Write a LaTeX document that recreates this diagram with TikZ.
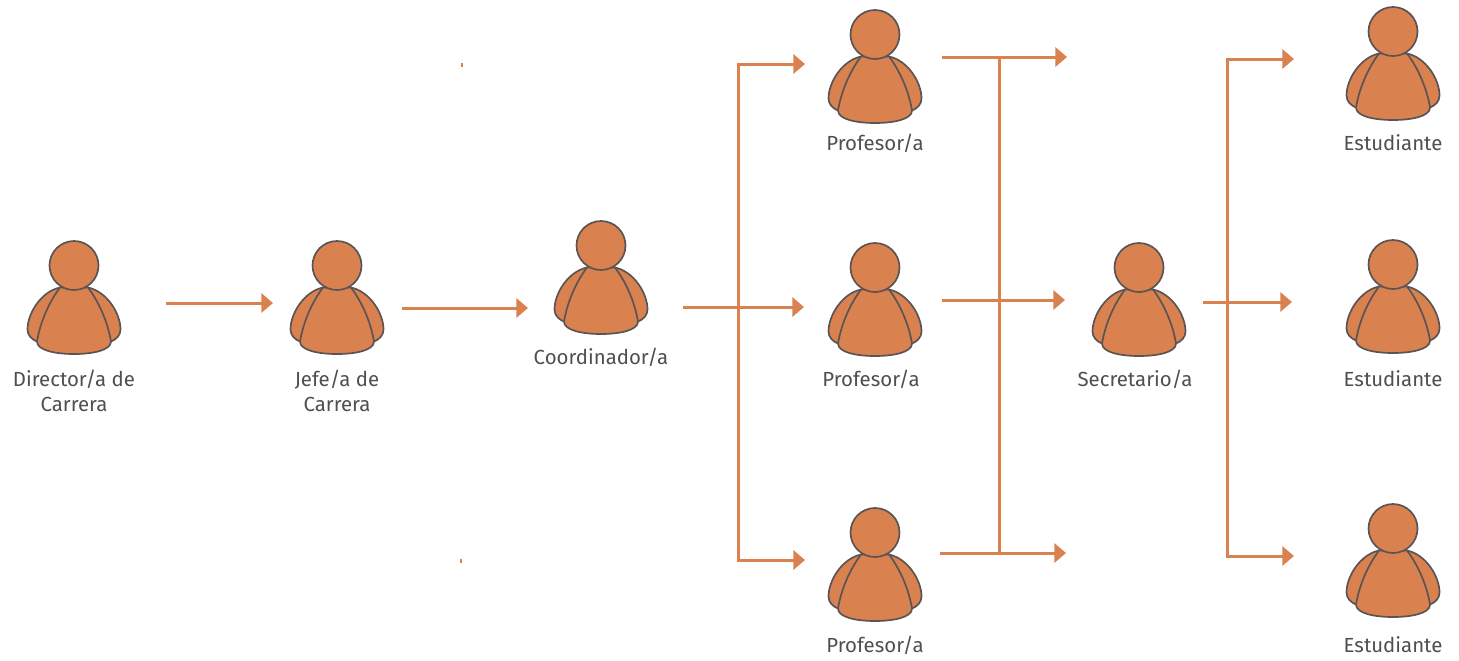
\documentclass[tikz,border=0pt]{standalone}
\usepackage{fontspec}
\setmainfont{Fira Sans}[Scale=1]
\usetikzlibrary{arrows.meta}
\definecolor{org}{HTML}{D9824F}
\definecolor{edgec}{HTML}{5C5454}
\definecolor{txt}{HTML}{4F4F4F}
\tikzset{
 conn/.style={draw=org,line width=1.5pt,line join=miter},
 arr/.style={conn,-{Triangle[length=5.8pt,width=9.5pt]}},
 arrboth/.style={conn,{Triangle[length=5.8pt,width=9.5pt]}-{Triangle[length=5.8pt,width=9.5pt]}},
 lab/.style={text=txt,font=\fontsize{10.2pt}{12.5pt}\selectfont,align=center,inner sep=0pt,anchor=center},
 person/.pic={
  \path[fill=org,draw=edgec,line width=.85pt,line join=round]
    (-14,22) .. controls (-33,26) and (-46.5,48) .. (-46.5,64)
    .. controls (-46.5,70) and (-42,74) .. (-37,76)
    -- (37,76) .. controls (42,74) and (46.5,70) .. (46.5,64)
    .. controls (46.5,48) and (33,26) .. (14,22) -- cycle;
  \path[fill=org,draw=edgec,line width=.85pt,line join=round]
    (-14,22) .. controls (-26,38) and (-34,58) .. (-37,76)
    .. controls (-37,85) and (-18,88.5) .. (0,88.5)
    .. controls (18,88.5) and (37,85) .. (37,76)
    .. controls (34,58) and (26,38) .. (14,22) -- cycle;
  \path[fill=org,draw=edgec,line width=.85pt] (0,0) circle (24.5);
 }
}
\begin{document}
\begin{tikzpicture}[x=0.5pt,y=-0.5pt]
\useasboundingbox (0,0) rectangle (1459,660);
\pic at (74,265.5) {person};
\pic at (337,265.5) {person};
\pic at (601,245.5) {person};
\pic at (875,34.5) {person};
\pic at (875,267.5) {person};
\pic at (875,532.5) {person};
\pic at (1139,267.5) {person};
\pic at (1393,31.5) {person};
\pic at (1393,264.5) {person};
\pic at (1393,528.5) {person};
\node[lab] (ldir) at (74,391) {Director/a de\\Carrera};
\node[lab] (ljef) at (337,391) {Jefe/a de\\Carrera};
\node[lab] (lcoo) at (601,357) {Coordinador/a};
\node[lab] (lp1) at (875,143) {Profesor/a};
\node[lab] (lp2) at (871,379) {Profesor/a};
\node[lab] (lp3) at (875,645) {Profesor/a};
\node[lab] (lsec) at (1135,379) {Secretario/a};
\node[lab] (le1) at (1393,143) {Estudiante};
\node[lab] (le2) at (1393,379) {Estudiante};
\node[lab] (le3) at (1393,645) {Estudiante};
% connector ends
\coordinate (a1) at (166,303); \coordinate (a2) at (273,303);
\coordinate (b1) at (402,308); \coordinate (b2) at (528,308);
\coordinate (c1) at (683,307); \coordinate (c2) at (804,307);
\coordinate (ct) at (738,64); \coordinate (ct2) at (805,64);
\coordinate (cb) at (738,560); \coordinate (cb2) at (805,560);
\coordinate (d1) at (942,57); \coordinate (d1e) at (1067,57);
\coordinate (d2) at (942,300); \coordinate (d2e) at (1065,300);
\coordinate (d3) at (940,553); \coordinate (d3e) at (1066,553);
\coordinate (dt) at (999,57); \coordinate (db) at (999,553);
\coordinate (e1) at (1203,302); \coordinate (e2) at (1292,302);
\coordinate (et) at (1227,59); \coordinate (et2) at (1294,59);
\coordinate (eb) at (1227,556); \coordinate (eb2) at (1294,556);
\draw[arr] (a1) -- (a2);
\draw[arr] (b1) -- (b2);
\draw[arr] (c1) -- (c2);
\draw[arrboth] (ct2) -- (ct) -- (cb) -- (cb2);
\draw[arr] (d1) -- (d1e);
\draw[arr] (d2) -- (d2e);
\draw[arr] (d3) -- (d3e);
\draw[conn] (dt) -- (db);
\draw[arr] (e1) -- (e2);
\draw[arrboth] (et2) -- (et) -- (eb) -- (eb2);
% tiny stray marks
\fill[org] (461,63) rectangle (463,67);
\fill[org] (460,559) rectangle (462,563);
\end{tikzpicture}
\end{document}
